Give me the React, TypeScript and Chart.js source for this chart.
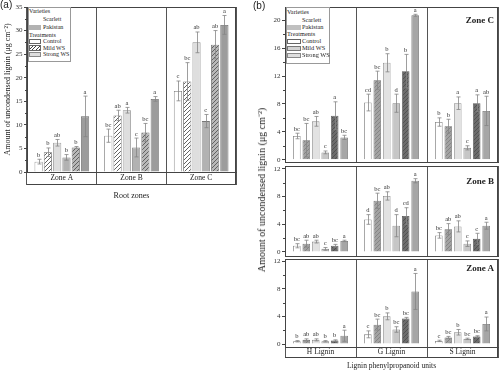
import React, { useEffect, useRef } from "react";
import { Chart, registerables } from "chart.js";
Chart.register(...registerables);

const SERIF = '"Liberation Serif", "Times New Roman", serif';
const SANS = '"Liberation Sans", Arial, sans-serif';

// ---------- categories ----------
const zoneLabels = ["Zone A", "Zone B", "Zone C"];
const ligninLabels = ["H Lignin", "G Lignin", "S Lignin"];
const seriesNames = [
  "Scarlett Control",
  "Scarlett Mild WS",
  "Scarlett Strong WS",
  "Pakistan Control",
  "Pakistan Mild WS",
  "Pakistan Strong WS",
];

// ---------- tick labels ----------
const aTicks = [0, 5, 10, 15, 20, 25, 30, 35];
const aMinorTicks = [2.5, 7.5, 12.5, 17.5, 22.5, 27.5, 32.5];
const bTopTicks = [0, 4, 8, 12, 16, 20];
const bTopMinorTicks = [2, 6, 10, 14, 18];
const bTicks = [0, 4, 8, 12];
const bMinorTicks = [2, 6, 10];

// ---------- panel (a): rows = series, columns = Zone A, B, C ----------
const aValues = [
  [2.2, 7.7, 17.2],
  [4.2, 12.0, 19.2],
  [6.2, 13.1, 27.5],
  [3.1, 5.2, 10.8],
  [5.2, 8.4, 27.0],
  [11.8, 15.5, 31.2],
];
const aErrors = [
  [0.5, 1.4, 2.1],
  [0.9, 1.1, 4.0],
  [0.7, 0.6, 2.2],
  [0.6, 2.0, 1.4],
  [0.2, 1.9, 3.0],
  [4.3, 0.5, 2.0],
];
const aLetters = [
  ["b", "bc", "c"],
  ["b", "ab", "bc"],
  ["ab", "a", "ab"],
  ["b", "c", "c"],
  ["b", "bc", "ab"],
  ["a", "a", "a"],
];

// ---------- panel (b), Zone C: columns = H, G, S lignin ----------
const bZoneCValues = [
  [3.4, 8.2, 5.4],
  [2.8, 11.4, 4.8],
  [5.5, 13.9, 8.1],
  [1.05, 8.1, 1.7],
  [6.3, 12.7, 8.1],
  [3.2, 20.7, 7.0],
];
const bZoneCErrors = [
  [0.4, 1.2, 0.6],
  [2.4, 1.3, 1.0],
  [0.7, 1.3, 0.9],
  [0.2, 1.3, 0.3],
  [2.0, 2.4, 1.2],
  [0.3, 0.15, 2.1],
];
const bZoneCLetters = [
  ["bc", "cd", "b"],
  ["bc", "bc", "b"],
  ["ab", "b", "a"],
  ["c", "d", "c"],
  ["a", "b", "a"],
  ["bc", "a", "ab"],
];

// ---------- panel (b), Zone B ----------
const bZoneBValues = [
  [0.9, 4.7, 2.4],
  [1.2, 7.4, 3.3],
  [1.5, 8.1, 3.7],
  [0.45, 3.8, 1.2],
  [0.9, 5.2, 1.9],
  [1.6, 10.3, 3.8],
];
const bZoneBErrors = [
  [0.3, 0.7, 0.4],
  [0.5, 1.1, 0.8],
  [0.2, 0.6, 0.8],
  [0.2, 1.6, 0.4],
  [0.2, 1.2, 0.8],
  [0.1, 0.3, 0.5],
];
const bZoneBLetters = [
  ["bc", "d", "bc"],
  ["ab", "bc", "ab"],
  ["ab", "ab", "ab"],
  ["c", "d", "c"],
  ["bc", "cd", "c"],
  ["a", "a", "a"],
];

// ---------- panel (b), Zone A ----------
const bZoneAValues = [
  [0.4, 1.4, 0.45],
  [0.6, 2.8, 0.95],
  [0.6, 4.0, 1.7],
  [0.4, 2.1, 0.75],
  [0.5, 3.7, 1.1],
  [1.2, 7.6, 2.9],
];
const bZoneAErrors = [
  [0.1, 0.5, 0.1],
  [0.15, 0.8, 0.15],
  [0.15, 0.5, 0.4],
  [0.1, 0.4, 0.1],
  [0.1, 0.15, 0.1],
  [0.8, 2.6, 1.0],
];
const bZoneALetters = [
  ["b", "c", "c"],
  ["ab", "bc", "bc"],
  ["ab", "b", "b"],
  ["b", "bc", "bc"],
  ["b", "bc", "bc"],
  ["a", "a", "a"],
];

// ---------- styles ----------
type BarStyle = { fill: string; hatch?: string; border: string };
const aStyles: BarStyle[] = [
  { fill: "#ffffff", border: "#7a7a7a" },
  { fill: "#ffffff", hatch: "#3a3a3a", border: "#666666" },
  { fill: "#dedede", border: "#8a8a8a" },
  { fill: "#b2b2b2", border: "#777777" },
  { fill: "#b8b8b8", hatch: "#4a4a4a", border: "#666666" },
  { fill: "#9c9c9c", border: "#666666" },
];
const bStyles: BarStyle[] = [
  { fill: "#ffffff", border: "#7a7a7a" },
  { fill: "#a2a2a2", hatch: "#7c7c7c", border: "#6a6a6a" },
  { fill: "#e2e2e2", border: "#8a8a8a" },
  { fill: "#c6c6c6", border: "#808080" },
  { fill: "#6c6c6c", hatch: "#4a4a4a", border: "#555555" },
  { fill: "#a6a6a6", border: "#707070" },
];

function hatch(bg: string, line: string, size = 4, lw = 0.8): any {
  const c = document.createElement("canvas");
  c.width = size;
  c.height = size;
  const g = c.getContext("2d");
  if (!g) return bg;
  g.fillStyle = bg;
  g.fillRect(0, 0, size, size);
  g.strokeStyle = line;
  g.lineWidth = lw;
  g.beginPath();
  g.moveTo(0, size);
  g.lineTo(size, 0);
  g.moveTo(-1, 1);
  g.lineTo(1, -1);
  g.moveTo(size - 1, size + 1);
  g.lineTo(size + 1, size - 1);
  g.stroke();
  return g.createPattern(c, "repeat") || bg;
}

type PanelSpec = {
  labels: string[];
  values: number[][];
  errors: number[][];
  letters: string[][];
  styles: BarStyle[];
  yMin: number;
  yMax: number;
  ticks: number[];
  minor: number[];
  yWidth: number;
  xHeight: number;
  pad: { top: number; right: number; bottom: number; left: number };
  band: number;
  showLabels: boolean;
  yTitle?: string;
  xTitle?: string;
  xTitleSize?: number;
  xTitlePad?: number;
  barPct: number;
};

function decorPlugin(spec: PanelSpec) {
  return {
    id: "panelDecor",
    afterDatasetsDraw(chart: any) {
      const ctx = chart.ctx as CanvasRenderingContext2D;
      const ys = chart.scales.y;
      ctx.save();
      ctx.strokeStyle = "#858585";
      ctx.lineWidth = 0.8;
      ctx.fillStyle = "#333";
      ctx.font = `6.5px ${SERIF}`;
      ctx.textAlign = "center";
      ctx.textBaseline = "bottom";
      spec.values.forEach((row, i) => {
        const meta = chart.getDatasetMeta(i);
        row.forEach((v, j) => {
          const bar = meta.data[j];
          if (!bar) return;
          const e = spec.errors[i][j];
          const x = Math.round(bar.x) + 0.5;
          const yt = ys.getPixelForValue(v + e);
          const yb = ys.getPixelForValue(v - e);
          ctx.beginPath();
          ctx.moveTo(x, yt);
          ctx.lineTo(x, yb);
          ctx.moveTo(x - 2, yt);
          ctx.lineTo(x + 2, yt);
          ctx.moveTo(x - 2, yb);
          ctx.lineTo(x + 2, yb);
          ctx.stroke();
          ctx.fillText(spec.letters[i][j], bar.x, yt - 1);
        });
      });
      ctx.restore();
    },
    afterDraw(chart: any) {
      const ctx = chart.ctx as CanvasRenderingContext2D;
      const a = chart.chartArea;
      const ys = chart.scales.y;
      ctx.save();
      ctx.strokeStyle = "#444";
      ctx.lineWidth = 1;
      ctx.beginPath();
      ctx.moveTo(a.left, a.top + 0.5);
      ctx.lineTo(a.right, a.top + 0.5);
      ctx.moveTo(a.right - 0.5, a.top);
      ctx.lineTo(a.right - 0.5, a.bottom + spec.band);
      if (spec.band > 0) {
        ctx.moveTo(a.left, a.bottom + spec.band - 0.5);
        ctx.lineTo(a.right, a.bottom + spec.band - 0.5);
      }
      spec.minor.forEach((v) => {
        const p = Math.round(ys.getPixelForValue(v)) + 0.5;
        ctx.moveTo(a.left - 2, p);
        ctx.lineTo(a.left, p);
      });
      ctx.stroke();
      ctx.restore();
    },
  };
}

function buildConfig(spec: PanelSpec): any {
  const datasets = seriesNames.map((name, i) => {
    const st = spec.styles[i];
    return {
      label: name,
      data: spec.values[i],
      backgroundColor: st.hatch ? hatch(st.fill, st.hatch) : st.fill,
      borderColor: st.border,
      borderWidth: 0.8,
      categoryPercentage: 0.8,
      barPercentage: spec.barPct,
    };
  });
  const labelSize = 7.5;
  return {
    type: "bar",
    data: { labels: spec.labels, datasets },
    options: {
      responsive: false,
      animation: false,
      events: [],
      layout: { padding: spec.pad },
      plugins: {
        legend: { display: false },
        tooltip: { enabled: false },
        title: { display: false },
      },
      scales: {
        x: {
          afterFit: (s: any) => {
            s.height = spec.xHeight;
          },
          grid: {
            offset: true,
            drawOnChartArea: true,
            color: "#555",
            lineWidth: 1,
            drawTicks: spec.band > 0,
            tickLength: spec.band,
            tickColor: "#555",
          },
          border: { display: true, color: "#444", width: 1 },
          ticks: {
            display: spec.showLabels,
            autoSkip: false,
            maxRotation: 0,
            color: "#222",
            font: { family: SERIF, size: labelSize },
            padding: -(spec.band / 2 + (labelSize * 1.2) / 2),
          },
          title: spec.xTitle
            ? {
                display: true,
                text: spec.xTitle,
                color: "#222",
                font: { family: SERIF, size: spec.xTitleSize || 8 },
                padding: { top: 0, bottom: spec.xTitlePad || 0 },
              }
            : { display: false },
        },
        y: {
          min: spec.yMin,
          max: spec.yMax,
          afterFit: (s: any) => {
            s.width = spec.yWidth;
          },
          afterBuildTicks: (s: any) => {
            s.ticks = spec.ticks.map((v) => ({ value: v }));
          },
          ticks: {
            color: "#333",
            font: { family: SERIF, size: 7 },
            padding: 1.5,
            callback: (v: any) => String(v),
          },
          grid: {
            drawOnChartArea: false,
            drawTicks: true,
            tickLength: 3,
            tickColor: "#444",
            lineWidth: 1,
          },
          border: { display: true, color: "#444", width: 1 },
          title: spec.yTitle
            ? {
                display: true,
                text: spec.yTitle,
                color: "#222",
                font: { family: SERIF, size: 8 },
                padding: { top: 3, bottom: 0 },
              }
            : { display: false },
        },
      },
    },
    plugins: [decorPlugin(spec)],
  };
}

const specA: PanelSpec = {
  labels: zoneLabels,
  values: aValues,
  errors: aErrors,
  letters: aLetters,
  styles: aStyles,
  yMin: 0,
  yMax: 35,
  ticks: aTicks,
  minor: aMinorTicks,
  yWidth: 27,
  xHeight: 33,
  pad: { top: 7, right: 4, bottom: 0, left: 0 },
  band: 13,
  showLabels: true,
  yTitle: "Amount of uncondensed lignin (μg cm⁻²)",
  xTitle: "Root zones",
  xTitleSize: 8,
  xTitlePad: 4,
  barPct: 0.88,
};

const specB1: PanelSpec = {
  labels: ligninLabels,
  values: bZoneCValues,
  errors: bZoneCErrors,
  letters: bZoneCLetters,
  styles: bStyles,
  yMin: -0.33,
  yMax: 21.9,
  ticks: bTopTicks,
  minor: bTopMinorTicks,
  yWidth: 35,
  xHeight: 8,
  pad: { top: 7, right: 2, bottom: 0, left: 0 },
  band: 0,
  showLabels: false,
  barPct: 0.8,
};

const specB2: PanelSpec = {
  labels: ligninLabels,
  values: bZoneBValues,
  errors: bZoneBErrors,
  letters: bZoneBLetters,
  styles: bStyles,
  yMin: -0.58,
  yMax: 12.43,
  ticks: bTicks,
  minor: bMinorTicks,
  yWidth: 35,
  xHeight: 8,
  pad: { top: 8, right: 2, bottom: 0, left: 0 },
  band: 0,
  showLabels: false,
  barPct: 0.8,
};

const specB3: PanelSpec = {
  labels: ligninLabels,
  values: bZoneAValues,
  errors: bZoneAErrors,
  letters: bZoneALetters,
  styles: bStyles,
  yMin: -0.43,
  yMax: 12.29,
  ticks: bTicks,
  minor: bMinorTicks,
  yWidth: 35,
  xHeight: 24,
  pad: { top: 8, right: 2, bottom: 0, left: 0 },
  band: 11,
  showLabels: true,
  xTitle: "Lignin phenylpropanoid units",
  xTitleSize: 7.5,
  xTitlePad: 0.5,
  barPct: 0.8,
};

function Txt(props: {
  x: number;
  y: number;
  size: number;
  children: React.ReactNode;
  bold?: boolean;
  right?: boolean;
  family?: string;
}) {
  const style: React.CSSProperties = {
    position: "absolute",
    top: props.y,
    transform: "translateY(-50%)",
    fontSize: props.size,
    lineHeight: 1,
    fontFamily: props.family || SERIF,
    fontWeight: props.bold ? "bold" : "normal",
    color: "#222",
    whiteSpace: "nowrap",
  };
  if (props.right) style.right = 500 - props.x;
  else style.left = props.x;
  return <div style={style}>{props.children}</div>;
}

function Swatch(props: { x: number; y: number; w: number; h: number; bg: string; border?: string }) {
  return (
    <div
      style={{
        position: "absolute",
        left: props.x,
        top: props.y,
        width: props.w,
        height: props.h,
        background: props.bg,
        border: props.border ? `0.8px solid ${props.border}` : "none",
        boxSizing: "border-box",
      }}
    />
  );
}

const hatchCss = (bg: string, line: string) =>
  `repeating-linear-gradient(135deg, ${bg} 0px, ${bg} 1.6px, ${line} 1.6px, ${line} 2.4px)`;

export default function App() {
  const refA = useRef<HTMLCanvasElement>(null);
  const refB1 = useRef<HTMLCanvasElement>(null);
  const refB2 = useRef<HTMLCanvasElement>(null);
  const refB3 = useRef<HTMLCanvasElement>(null);

  useEffect(() => {
    const charts: Chart[] = [];
    const pairs: [React.RefObject<HTMLCanvasElement>, PanelSpec][] = [
      [refA, specA],
      [refB1, specB1],
      [refB2, specB2],
      [refB3, specB3],
    ];
    pairs.forEach(([r, s]) => {
      if (r.current) charts.push(new Chart(r.current, buildConfig(s)));
    });
    return () => charts.forEach((c) => c.destroy());
  }, []);

  const cv = (left: number, top: number, w: number, h: number): React.CSSProperties => ({
    position: "absolute",
    left,
    top,
    width: w,
    height: h,
  });

  return (
    <div
      style={{
        position: "fixed",
        left: 0,
        top: 0,
        width: 500,
        height: 371,
        background: "#fff",
        overflow: "hidden",
      }}
    >
      <canvas ref={refA} width={240} height={205} style={cv(0, 0, 240, 205)} />
      <canvas ref={refB1} width={250} height={170} style={cv(250, 0, 250, 170)} />
      <canvas ref={refB2} width={250} height={106} style={cv(250, 158, 250, 106)} />
      <canvas ref={refB3} width={250} height={120} style={cv(250, 251, 250, 120)} />

      <Txt x={0} y={5} size={10} family={SANS}>(a)</Txt>
      <Txt x={253} y={6} size={10} family={SANS}>(b)</Txt>

      {/* legend (a) */}
      <div
        style={{
          position: "absolute",
          left: 27.5,
          top: 7,
          width: 43,
          height: 55,
          border: "0.8px solid #999",
          background: "#fff",
          boxSizing: "border-box",
        }}
      />
      <Txt x={29} y={10.5} size={6}>Varieties</Txt>
      <Txt x={43} y={19} size={6}>Scarlett</Txt>
      <Swatch x={28.5} y={24.5} w={12.5} h={5.5} bg="#b2b2b2" />
      <Txt x={43} y={27.3} size={6}>Pakistan</Txt>
      <Txt x={29} y={34.5} size={6}>Treatments</Txt>
      <Swatch x={28.5} y={38.5} w={12.5} h={5.5} bg="#fff" border="#666" />
      <Txt x={43} y={41.3} size={6}>Control</Txt>
      <Swatch x={28.5} y={45} w={12.5} h={5.5} bg={hatchCss("#fff", "#444")} border="#666" />
      <Txt x={43} y={47.8} size={6}>Mild WS</Txt>
      <Swatch x={28.5} y={51.5} w={12.5} h={5.5} bg="#dedede" border="#888" />
      <Txt x={43} y={54.3} size={6}>Strong WS</Txt>

      {/* legend (b) */}
      <div
        style={{
          position: "absolute",
          left: 285.5,
          top: 7,
          width: 44.5,
          height: 57,
          border: "0.8px solid #999",
          background: "#fff",
          boxSizing: "border-box",
        }}
      />
      <Txt x={287} y={11.5} size={6.3}>Varieties</Txt>
      <Txt x={302} y={19.5} size={6.3}>Scarlett</Txt>
      <Swatch x={286.5} y={24.5} w={14} h={5} bg="#c0c0c0" />
      <Txt x={302} y={27} size={6.3}>Pakistan</Txt>
      <Txt x={287} y={34} size={6.3}>Treatments</Txt>
      <Swatch x={286.5} y={38.5} w={14} h={5.5} bg="#fff" border="#666" />
      <Txt x={302} y={41.3} size={6.3}>Control</Txt>
      <Swatch x={286.5} y={45.5} w={14} h={5.5} bg="#d4d4d4" border="#777" />
      <Txt x={302} y={48.3} size={6.3}>Mild WS</Txt>
      <Swatch x={286.5} y={52.5} w={14} h={5.5} bg="#dedede" border="#888" />
      <Txt x={302} y={55.3} size={6.3}>Strong WS</Txt>

      {/* zone titles for (b) */}
      <Txt x={494} y={20} size={9} bold right>Zone C</Txt>
      <Txt x={494} y={181} size={9} bold right>Zone B</Txt>
      <Txt x={494} y={268} size={9} bold right>Zone A</Txt>

      {/* y title for (b) */}
      <div
        style={{
          position: "absolute",
          left: 262,
          top: 190,
          transform: "translate(-50%, -50%) rotate(-90deg)",
          fontFamily: SERIF,
          fontSize: 10,
          lineHeight: 1,
          color: "#222",
          whiteSpace: "nowrap",
        }}
      >
        Amount of uncondensed lignin (μg cm⁻²)
      </div>
    </div>
  );
}
